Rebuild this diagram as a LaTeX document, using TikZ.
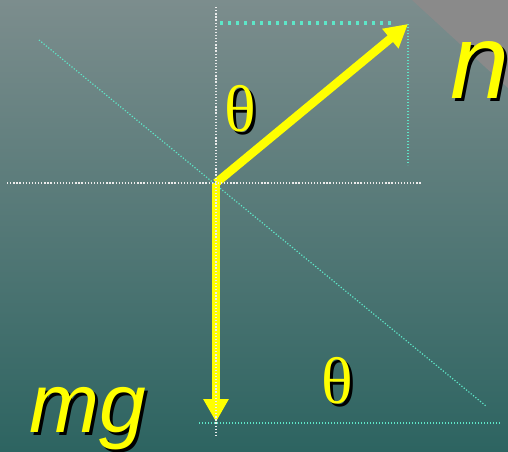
\documentclass[tikz,border=0pt]{standalone}
\usepackage{fontspec}
\setmainfont{Liberation Serif}
\newfontfamily\labelsans{Liberation Sans}
\usepackage{xcolor}
\usetikzlibrary{arrows.meta}

\definecolor{bgtop}{RGB}{124,141,141}
\definecolor{bgbottom}{RGB}{45,100,97}
\definecolor{slopegray}{RGB}{138,138,138}
\definecolor{guidecyan}{RGB}{94,230,200}
\definecolor{forceyellow}{RGB}{255,255,0}
\newcommand{\dropshadow}[1]{\rlap{\kern3pt\raisebox{-3pt}{\color{black}#1}}#1}

\begin{document}
\begin{tikzpicture}[x=1pt,y=-1pt,
  force/.style={draw=forceyellow,line width=8.5pt,-{Triangle[length=23pt,width=24pt]}},
  whitedots/.style={draw=white!85!gray,line width=1.3pt,dash pattern=on 1.3pt off 1.8pt},
  cyandots/.style={draw=guidecyan,line width=1.2pt,dash pattern=on 1.2pt off 1.8pt},
  cyanbig/.style={draw=guidecyan,line width=3.3pt,dash pattern=on 3.3pt off 4.7pt},
  anglelbl/.style={text=forceyellow,inner sep=0pt,anchor=base,font=\fontsize{66}{70}\selectfont},
  forcelbl/.style={text=forceyellow,inner sep=0pt,anchor=base west,font=\labelsans\itshape\fontsize{84}{90}\selectfont}
]
\path[use as bounding box,clip] (0,0) rectangle (508,451);
\shade[top color=bgtop,bottom color=bgbottom] (0,0) rectangle (508,451);
\fill[slopegray] (412,0) -- (508,0) -- (508,88) -- cycle;

% guide lines
\coordinate (diagA) at (39,40);
\coordinate (diagB) at (486,406);
\coordinate (topL) at (220,23);
\coordinate (topR) at (393,23);
\coordinate (sideT) at (408,24);
\coordinate (sideB) at (408,165);
\coordinate (baseL) at (199,423);
\coordinate (baseR) at (501,423);
\coordinate (vertT) at (216,7);
\coordinate (vertB) at (216,437);
\coordinate (horL) at (7,183);
\coordinate (horR) at (421,183);

% forces
\coordinate (O) at (216,183);
\coordinate (N) at (408,24);
\coordinate (W) at (216,422);

\draw[cyandots] (diagA) -- (diagB);
\draw[cyanbig] (topL) -- (topR);
\draw[cyandots] (sideT) -- (sideB);
\draw[cyandots] (baseL) -- (baseR);

\draw[force] (O) -- (N);
\draw[force] (O) -- (W);

\draw[whitedots] (vertT) -- (vertB);
\draw[whitedots] (horL) -- (horR);

\node[anglelbl] (thetaN) at (240,131) {\dropshadow{θ}};
\node[anglelbl] (thetaW) at (337,403) {\dropshadow{θ}};
\node[forcelbl,font=\labelsans\itshape\fontsize{106}{110}\selectfont] (lblN) at (450,98) {\dropshadow{n}};
\node[forcelbl] (lblW) at (29,432) {\dropshadow{mg}};
\end{tikzpicture}
\end{document}
